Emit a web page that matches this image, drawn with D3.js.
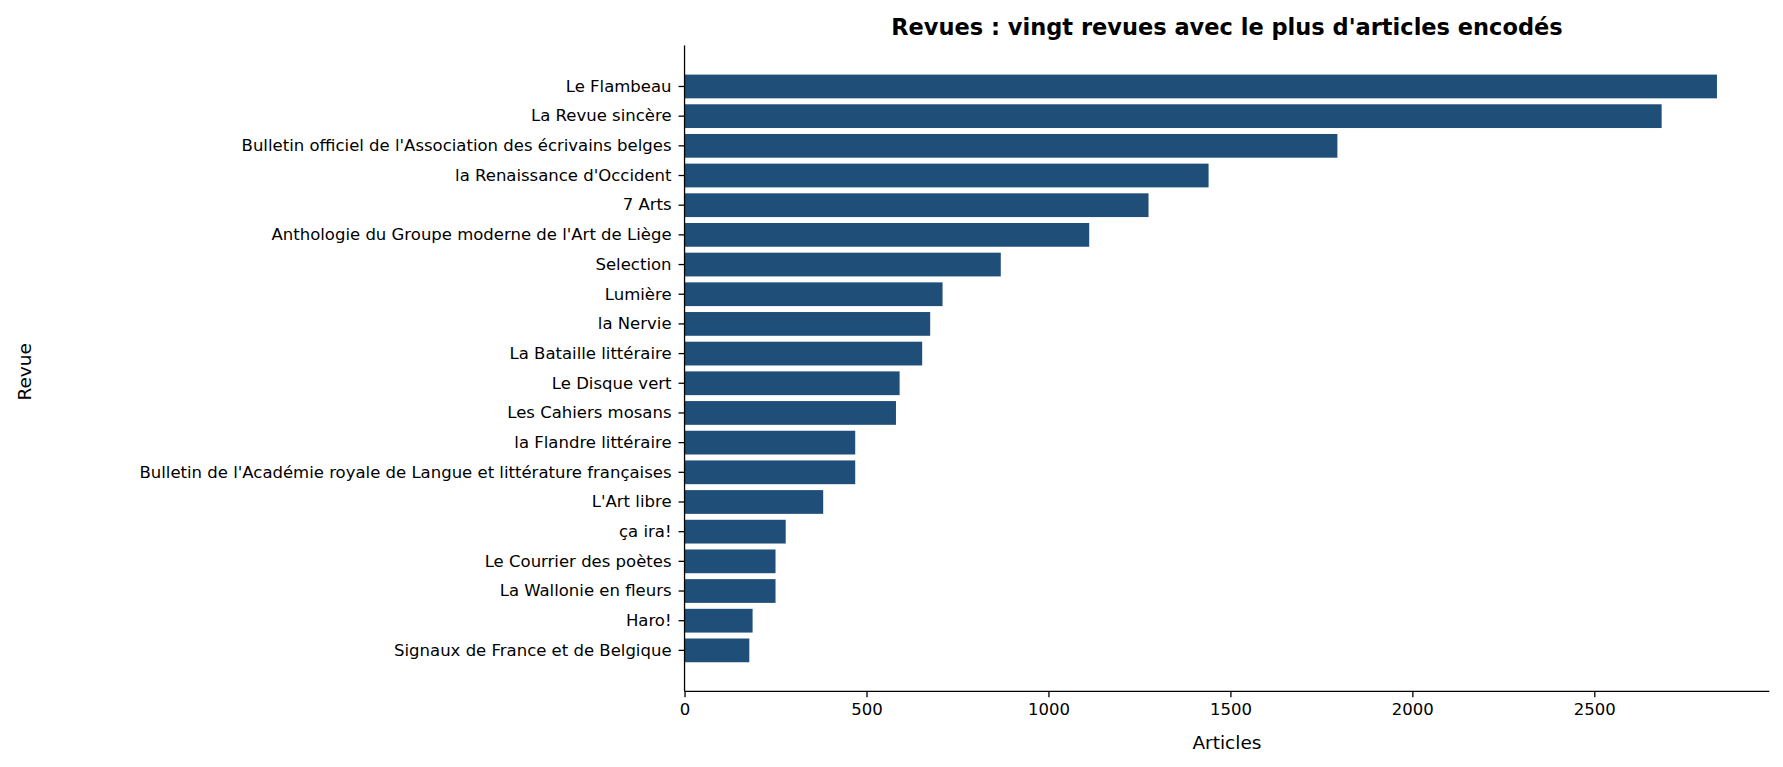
<!DOCTYPE html>
<html><head><meta charset="utf-8">
<script src="https://cdn.jsdelivr.net/npm/d3@7"></script>
<style>body{margin:0;background:#fff;font-family:"DejaVu Sans",sans-serif}</style>
</head><body><svg id="c" width="1783" height="767"></svg>
<script>
const categories=["Le Flambeau","La Revue sincère","Bulletin officiel de l'Association des écrivains belges","la Renaissance d'Occident","7 Arts","Anthologie du Groupe moderne de l'Art de Liège","Selection","Lumière","la Nervie","La Bataille littéraire","Le Disque vert","Les Cahiers mosans","la Flandre littéraire","Bulletin de l'Académie royale de Langue et littérature françaises","L'Art libre","ça ira!","Le Courrier des poètes","La Wallonie en fleurs","Haro!","Signaux de France et de Belgique"];
const values=[2837,2685,1794,1440,1275,1112,869,709,675,653,591,581,469,469,381,278,250,250,187,178];
const xTicks=[0,500,1000,1500,2000,2500];
const k=1783/1568;
const svg=d3.select("#c");
const L=602*k,R=1556*k,T=40*k,B=608*k;
const x=d3.scaleLinear().domain([0,2981]).range([L,R]);
const y=d3.scaleBand().domain(categories).range([63*k,585*k]).paddingInner(0.2).paddingOuter(0.1);
svg.selectAll("rect").data(values).join("rect")
 .attr("x",x(0)).attr("y",(d,i)=>y(categories[i])).attr("height",y.bandwidth())
 .attr("width",d=>x(d)-x(0)).attr("fill","#1f4e79");
const xa=svg.append("g").attr("transform",`translate(0,${B})`).call(d3.axisBottom(x).tickValues(xTicks).tickFormat(d3.format("d")).tickSize(6).tickPadding(6).tickSizeOuter(0));
xa.select(".domain").attr("d",`M${L},0H${R}`);
const ya=svg.append("g").attr("transform",`translate(${L},0)`).call(d3.axisLeft(y).tickSize(6).tickPadding(7).tickSizeOuter(0));
ya.select(".domain").attr("d",`M0,${T}V${B}`);
svg.selectAll(".tick text").attr("font-family","DejaVu Sans").attr("font-size",16.5).attr("fill","#000");
svg.selectAll(".domain,.tick line").attr("stroke","#000").attr("stroke-width",1.3);
svg.append("text").attr("x",1079*k).attr("y",31*k).attr("text-anchor","middle").attr("font-weight","bold").attr("font-size",22.5).text("Revues : vingt revues avec le plus d'articles encodés");
svg.append("text").attr("x",1079*k).attr("y",659*k).attr("text-anchor","middle").attr("font-size",18.5).text("Articles");
svg.append("text").attr("transform",`translate(${27*k},${327*k}) rotate(-90)`).attr("text-anchor","middle").attr("font-size",18.5).text("Revue");
</script></body></html>
